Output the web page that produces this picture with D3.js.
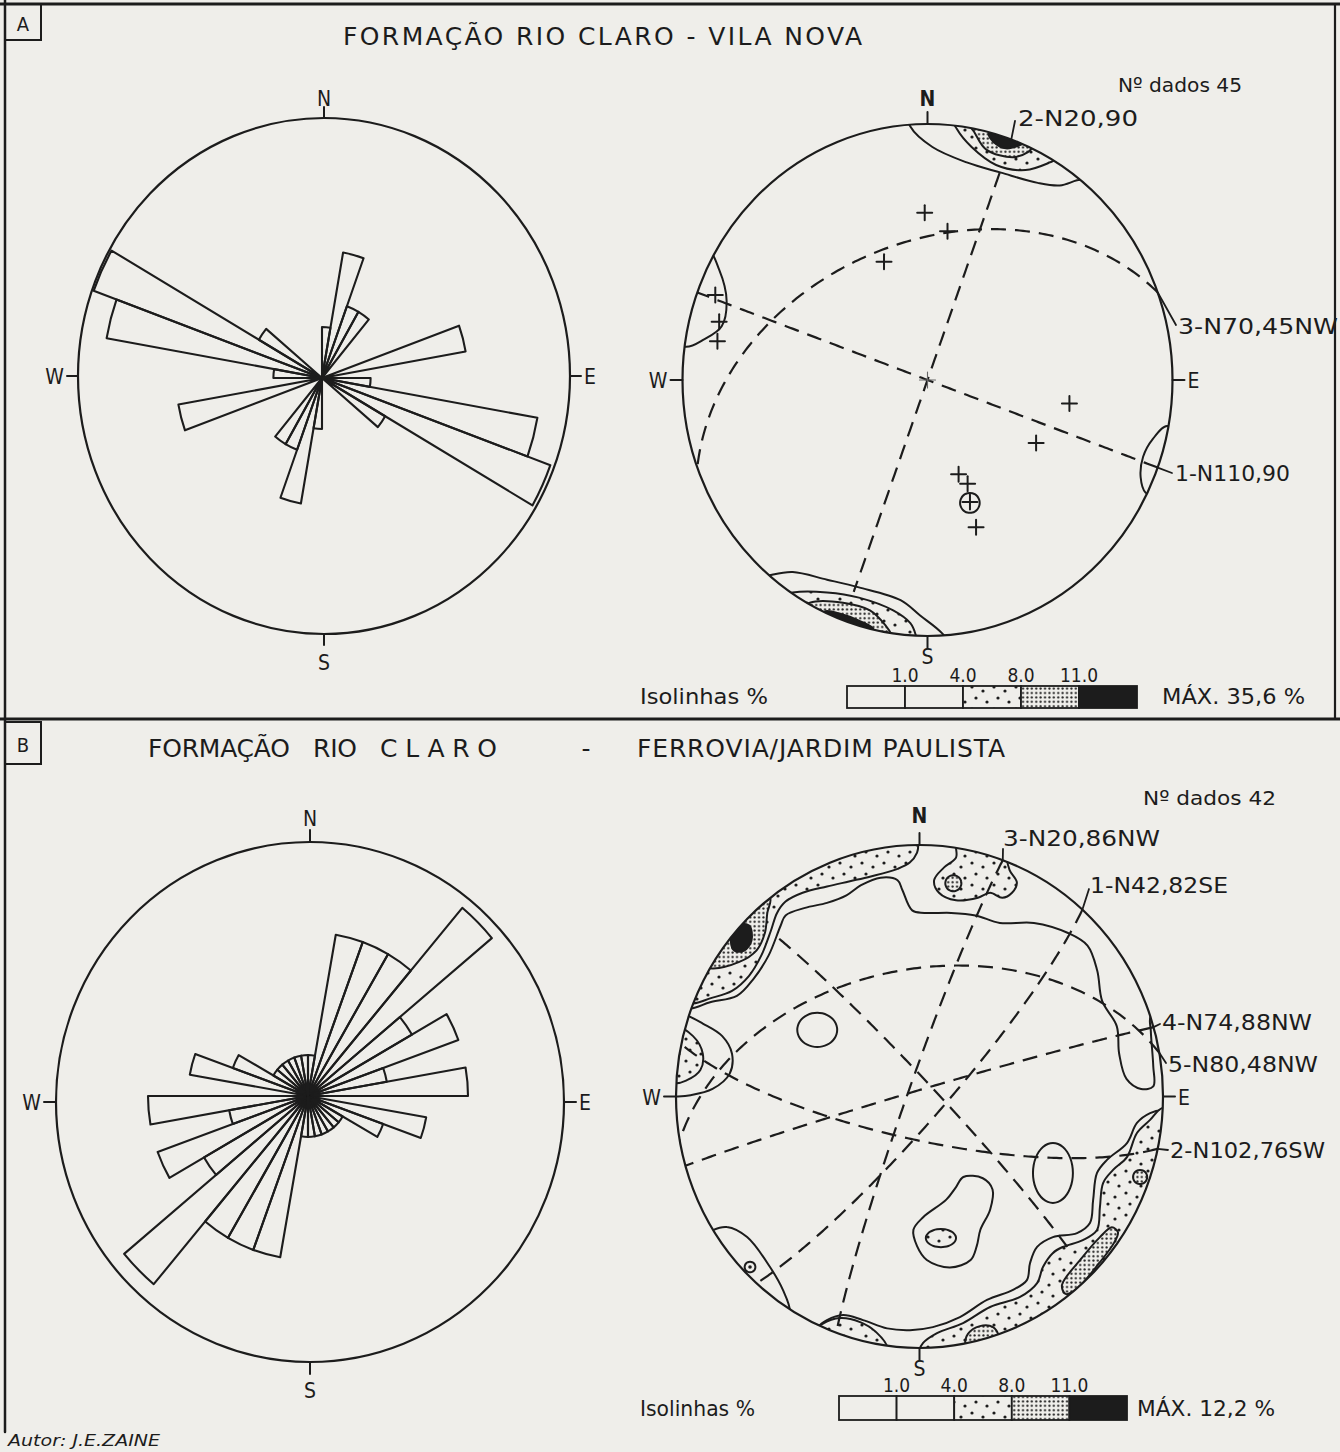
<!DOCTYPE html>
<html lang="pt">
<head>
<meta charset="utf-8">
<title>Formação Rio Claro – fraturas</title>
<script src="https://cdn.jsdelivr.net/npm/d3@7/dist/d3.min.js"></script>
<style>
  html, body { margin: 0; padding: 0; background: #efeeea; }
  svg { display: block; }
  text { font-family: "DejaVu Sans Condensed", "DejaVu Sans", sans-serif; fill: #1c1c1c; }
  text.title { font-family: "DejaVu Sans", sans-serif; }
</style>
</head>
<body>
<svg id="fig" width="1340" height="1452" viewBox="0 0 1340 1452"></svg>
<script>
// ------------------------------------------------------------------
// Data
// ------------------------------------------------------------------
// 10° strike classes from 0° to 180°; every class is plotted at its
// azimuth and at azimuth + 180°.
const strikeClasses = d3.range(0, 180, 10);

// number of fractures in each strike class
const roseCountsA = [2, 5, 3, 3, 0, 0, 0, 6, 0, 2, 9, 10, 3, 0, 0, 0, 0, 0];
const roseCountsB = [1, 4, 4, 4, 6, 3, 4, 2, 4, 0, 3, 2, 1, 1, 1, 1, 1, 1];

const dataCounts = [45, 42];          // Nº dados
const densityMax = [35.6, 12.2];      // MÁX. (%)
const isolineLevels = [1.0, 4.0, 8.0, 11.0];

// main fracture planes: strike, dip, dip direction (azimuths in degrees)
const planesA = [
  { name: "1-N110,90",  strike: 110, dip: 90, dipDir: 200 },
  { name: "2-N20,90",   strike: 20,  dip: 90, dipDir: 110, span: [15, 167] },
  { name: "3-N70,45NW", strike: 70,  dip: 45, dipDir: 340 }
];
const planesB = [
  { name: "1-N42,82SE",  strike: 42,  dip: 82, dipDir: 132 },
  { name: "2-N102,76SW", strike: 102, dip: 76, dipDir: 192 },
  { name: "3-N20,86NW",  strike: 20,  dip: 86, dipDir: 290 },
  { name: "4-N74,88NW",  strike: 74,  dip: 88, dipDir: 344 },
  { name: "5-N80,48NW",  strike: 80,  dip: 48, dipDir: 350 },
  { name: "",            strike: 316, dip: 85, dipDir: 46, span: [16, 164] }
];

// poles to fractures (trend, plunge) plotted individually in net A
const polesA = [
  [359, 35], [8, 41], [339, 49], [291, 8], [285, 13], [280, 14],
  [99, 41], [119, 48], [161, 58], [158, 54], [160, 48], [161, 39]
];

// density isolines (% per 1% area) in net coordinates (unit primitive,
// x east, y north); points beyond the primitive close the areas along it
const isolinesA = [
  { level: 1, pts: [[-0.07,0.99],[0.02,0.91],[0.16,0.85],[0.30,0.81],[0.45,0.77],[0.54,0.76],[0.61,0.78],[0.70,0.80],[0.40,1.05],[-0.08,1.04]] },
  { level: 1, pts: [[-0.63,-0.76],[-0.55,-0.75],[-0.41,-0.78],[-0.28,-0.81],[-0.11,-0.86],[-0.03,-0.92],[0.06,-0.99],[0.10,-1.05],[-0.30,-1.06],[-0.72,-0.79]] },
  { level: 1, pts: [[-0.90,0.51],[-0.85,0.43],[-0.82,0.31],[-0.84,0.21],[-0.91,0.16],[-0.99,0.13],[-1.08,0.20],[-1.05,0.45]] },
  { level: 1, pts: [[0.98,-0.18],[0.92,-0.23],[0.88,-0.30],[0.87,-0.38],[0.89,-0.44],[0.95,-0.46],[1.06,-0.32]] },
  { level: 4, pts: [[0.12,0.98],[0.18,0.91],[0.28,0.84],[0.40,0.82],[0.50,0.85],[0.52,0.86],[0.58,0.89],[0.30,1.02],[0.10,1.03]] },
  { level: 4, pts: [[-0.55,-0.83],[-0.41,-0.83],[-0.28,-0.85],[-0.14,-0.90],[-0.07,-0.95],[-0.05,-0.99],[-0.04,-1.05],[-0.40,-1.00],[-0.62,-0.85]] },
  { level: 8, pts: [[0.19,0.97],[0.24,0.90],[0.35,0.87],[0.41,0.89],[0.43,0.91],[0.46,0.95],[0.30,1.00],[0.17,1.00]] },
  { level: 8, pts: [[-0.48,-0.87],[-0.345,-0.87],[-0.235,-0.90],[-0.17,-0.96],[-0.15,-0.99],[-0.14,-1.05],[-0.35,-1.00],[-0.52,-0.90]] },
  { level: 11, pts: [[0.25,0.965],[0.27,0.93],[0.32,0.905],[0.37,0.915],[0.39,0.925],[0.37,0.96],[0.30,0.985]] },
  { level: 11, pts: [[-0.42,-0.905],[-0.35,-0.915],[-0.28,-0.94],[-0.22,-0.975],[-0.25,-1.03],[-0.40,-0.97]] }
];
// small closed isolines: centre and half-axes in net units
const loopsA = [
  { level: 1, u: 0.173, v: -0.48, ru: 0.04, rv: 0.039 }
];

const isolinesB = [
  { level: 1, pts: [[-0.94,0.35],[-0.86,0.375],[-0.75,0.40],[-0.68,0.47],[-0.62,0.56],[-0.57,0.68],[-0.55,0.72],[-0.47,0.75],[-0.38,0.77],[-0.30,0.80],[-0.24,0.84],[-0.16,0.87],[-0.09,0.86],[-0.07,0.82],[-0.03,0.74],[0.02,0.73],[0.13,0.73],[0.23,0.72],[0.33,0.69],[0.47,0.69],[0.61,0.65],[0.69,0.60],[0.73,0.50],[0.75,0.38],[0.81,0.28],[0.82,0.17],[0.85,0.07],[0.91,0.03],[0.96,0.04],[0.96,0.12],[0.95,0.26],[0.95,0.32],[1.02,0.36],[0.80,0.76],[0.30,1.02],[-0.30,1.02],[-0.80,0.70],[-1.02,0.36]] },
  { level: 1, pts: [[-0.975,0.33],[-0.89,0.29],[-0.81,0.24],[-0.77,0.17],[-0.78,0.09],[-0.85,0.03],[-0.94,0.005],[-1.0,0.0],[-1.08,0.0],[-1.06,0.34]] },
  { level: 1, pts: [[0.18,-0.32],[0.26,-0.325],[0.30,-0.37],[0.29,-0.45],[0.25,-0.53],[0.235,-0.595],[0.21,-0.65],[0.125,-0.68],[0.03,-0.65],[-0.01,-0.595],[-0.025,-0.53],[0.015,-0.48],[0.11,-0.41],[0.15,-0.36]] },
  { level: 1, pts: [[1.0,-0.054],[0.947,-0.066],[0.893,-0.105],[0.852,-0.185],[0.77,-0.252],[0.729,-0.304],[0.713,-0.412],[0.70,-0.503],[0.647,-0.543],[0.548,-0.559],[0.483,-0.598],[0.454,-0.662],[0.441,-0.73],[0.384,-0.769],[0.277,-0.809],[0.166,-0.877],[0.055,-0.917],[-0.039,-0.929],[-0.133,-0.922],[-0.232,-0.889],[-0.314,-0.869],[-0.38,-0.889],[-0.417,-0.917],[-0.45,-1.0],[0.30,-1.08],[0.88,-0.66],[1.07,-0.06]] },
  { level: 1, pts: [[-0.848,-0.531],[-0.791,-0.519],[-0.708,-0.559],[-0.614,-0.678],[-0.561,-0.769],[-0.532,-0.857],[-0.56,-0.92],[-0.92,-0.58]] },
  { level: 4, pts: [[-0.93,0.37],[-0.86,0.39],[-0.77,0.42],[-0.70,0.48],[-0.65,0.56],[-0.61,0.66],[-0.585,0.73],[-0.55,0.775],[-0.48,0.81],[-0.38,0.835],[-0.29,0.855],[-0.20,0.875],[-0.09,0.905],[-0.04,0.93],[-0.01,0.97],[-0.005,1.0],[-0.01,1.06],[-0.45,0.97],[-0.85,0.62],[-1.03,0.38]] },
  { level: 4, pts: [[0.15,0.99],[0.15,0.95],[0.10,0.91],[0.06,0.86],[0.08,0.81],[0.15,0.78],[0.24,0.79],[0.29,0.81],[0.34,0.79],[0.38,0.81],[0.40,0.85],[0.37,0.90],[0.36,0.95],[0.38,1.0],[0.15,1.05]] },
  { level: 4, pts: [[-1.01,0.28],[-0.93,0.24],[-0.89,0.17],[-0.90,0.105],[-0.955,0.065],[-1.01,0.055],[-1.1,0.17]] },
  { level: 4, pts: [[0.996,-0.046],[0.947,-0.093],[0.893,-0.145],[0.852,-0.241],[0.795,-0.292],[0.754,-0.344],[0.741,-0.439],[0.729,-0.531],[0.671,-0.571],[0.589,-0.598],[0.548,-0.622],[0.507,-0.678],[0.483,-0.742],[0.413,-0.797],[0.29,-0.837],[0.179,-0.901],[0.072,-0.941],[0.014,-0.981],[0.002,-1.008],[0.10,-1.06],[0.80,-0.70],[1.06,-0.05]] },
  { level: 4, pts: [[-0.40,-0.905],[-0.326,-0.881],[-0.244,-0.897],[-0.179,-0.936],[-0.133,-1.0],[-0.20,-1.06],[-0.45,-0.95]] },
  { level: 8, pts: [[-0.614,0.79],[-0.625,0.73],[-0.635,0.65],[-0.67,0.58],[-0.74,0.535],[-0.86,0.51],[-0.95,0.55],[-0.70,0.80]] },
  { level: 8, pts: [[0.79,-0.52],[0.815,-0.54],[0.80,-0.58],[0.74,-0.66],[0.64,-0.77],[0.60,-0.785],[0.585,-0.75],[0.66,-0.65],[0.74,-0.56]] },
  { level: 8, pts: [[0.187,-0.988],[0.199,-0.944],[0.248,-0.913],[0.302,-0.917],[0.326,-0.952],[0.33,-1.02],[0.20,-1.04]] },
  { level: 11, pts: [[-0.76,0.68],[-0.70,0.68],[-0.69,0.62],[-0.72,0.58],[-0.76,0.58],[-0.775,0.62]] }
];
const loopsB = [
  { level: 1, u: -0.42, v: 0.265, ru: 0.082, rv: 0.068 },
  { level: 1, u: 0.548, v: -0.304, ru: 0.082, rv: 0.119 },
  { level: 4, u: 0.088, v: -0.563, ru: 0.062, rv: 0.036 },
  { level: 4, u: -0.696, v: -0.678, ru: 0.022, rv: 0.021 },
  { level: 8, u: 0.139, v: 0.848, ru: 0.033, rv: 0.032 },
  { level: 8, u: 0.906, v: -0.32, ru: 0.029, rv: 0.028 }
];

// ------------------------------------------------------------------
// Drawing
// ------------------------------------------------------------------
const DEG = Math.PI / 180;
const INK = "#1c1c1c";
const PAPER = "#efeeea";
const svg = d3.select("#fig");
svg.append("rect").attr("width", 1340).attr("height", 1452).attr("fill", PAPER);

const defs = svg.append("defs");
const sparse = defs.append("pattern").attr("id", "dotsSparse")
  .attr("patternUnits", "userSpaceOnUse").attr("width", 22).attr("height", 22);
sparse.append("rect").attr("width", 22).attr("height", 22).attr("fill", PAPER);
[[4, 5], [15, 9], [8, 16], [19, 20]].forEach(([cx, cy]) =>
  sparse.append("circle").attr("cx", cx).attr("cy", cy).attr("r", 1.6).attr("fill", INK));
const dense = defs.append("pattern").attr("id", "dotsDense")
  .attr("patternUnits", "userSpaceOnUse").attr("width", 4.4).attr("height", 4.4);
dense.append("rect").attr("width", 4.4).attr("height", 4.4).attr("fill", PAPER);
dense.append("circle").attr("cx", 2.2).attr("cy", 2.2).attr("r", 1.1).attr("fill", INK);

const levelFill = lv => lv >= 11 ? INK : lv >= 8 ? "url(#dotsDense)" : lv >= 4 ? "url(#dotsSparse)" : PAPER;

// Lambert equal-area (Schmidt) projection, lower hemisphere, unit primitive
function project(trend, plunge) {
  const r = Math.SQRT2 * Math.sin((90 - plunge) * DEG / 2);
  return [r * Math.sin(trend * DEG), r * Math.cos(trend * DEG)];
}
function greatCircle(p) {
  const s = [Math.cos(p.strike * DEG), Math.sin(p.strike * DEG), 0];
  const d = [Math.cos(p.dip * DEG) * Math.cos(p.dipDir * DEG),
             Math.cos(p.dip * DEG) * Math.sin(p.dipDir * DEG),
             Math.sin(p.dip * DEG)];
  const [t0, t1] = p.span || [0, 180];
  return d3.range(t0, t1 + 0.001, 1).map(t => {
    const c = Math.cos(t * DEG), sn = Math.sin(t * DEG);
    const v = [c * s[0] + sn * d[0], c * s[1] + sn * d[1], c * s[2] + sn * d[2]];
    const plunge = Math.asin(Math.max(-1, Math.min(1, v[2]))) / DEG;
    const trend = Math.atan2(v[1], v[0]) / DEG;
    return project(trend, plunge);
  });
}

function text(g, str, x, y, o = {}) {
  const t = g.append("text").attr("x", x).attr("y", y).text(str)
    .attr("font-size", o.size || 21)
    .attr("text-anchor", o.anchor || "start");
  if (o.cls) t.attr("class", o.cls);
  if (o.weight) t.attr("font-weight", o.weight);
  if (o.style) t.attr("font-style", o.style);
  if (o.len) t.attr("textLength", o.len).attr("lengthAdjust", o.adjust || "spacingAndGlyphs");
  return t;
}
function line(g, x1, y1, x2, y2, w = 2) {
  return g.append("line").attr("x1", x1).attr("y1", y1).attr("x2", x2).attr("y2", y2)
    .attr("stroke", INK).attr("stroke-width", w).attr("stroke-linecap", "round");
}

// compass ticks and letters around a primitive
function compass(g, c, o) {
  line(g, c.cx, c.cy - c.ry - o.tick, c.cx, c.cy - c.ry);
  line(g, c.cx, c.cy + c.ry, c.cx, c.cy + c.ry + o.tick);
  line(g, c.cx - c.rx - o.tick, c.cy, c.cx - c.rx, c.cy);
  line(g, c.cx + c.rx, c.cy, c.cx + c.rx + o.tick, c.cy);
  text(g, "N", c.cx, c.cy - c.ry - o.nGap, { anchor: "middle", size: 21, weight: o.bold ? "bold" : null });
  text(g, "S", c.cx, c.cy + c.ry + o.sGap, { anchor: "middle", size: 21 });
  text(g, "W", c.cx - c.rx - o.tick - 3, c.cy + 8, { anchor: "end", size: 21 });
  text(g, "E", c.cx + c.rx + o.tick + 3, c.cy + 8, { anchor: "start", size: 21 });
}

// ---------------- rose diagrams ----------------
function drawRose(counts, c, o) {
  const g = svg.append("g");
  const r = d3.scaleLinear().domain([0, o.unitCount]).range([0, o.unitRadius]);
  const petals = [];
  strikeClasses.forEach((a, i) => {
    if (counts[i] > 0) {
      petals.push({ a0: a, n: counts[i] });
      petals.push({ a0: a + 180, n: counts[i] });
    }
  });
  const arc = d3.arc().innerRadius(0);
  g.append("g")
    .attr("transform", `translate(${o.ox},${o.oy}) scale(1,${c.ry / c.rx})`)
    .selectAll("path").data(petals).join("path")
    .attr("d", d => arc({ outerRadius: r(d.n), startAngle: d.a0 * DEG, endAngle: (d.a0 + 10) * DEG }))
    .attr("fill", "none").attr("stroke", INK).attr("stroke-width", 2.1)
    .attr("stroke-linejoin", "round").attr("vector-effect", "non-scaling-stroke");
  g.append("ellipse").attr("cx", c.cx).attr("cy", c.cy).attr("rx", c.rx).attr("ry", c.ry)
    .attr("fill", "none").attr("stroke", INK).attr("stroke-width", 2.2);
  compass(g, c, o.compass);
}

// ---------------- stereonets ----------------
let clipId = 0;
function drawNet(c, isolines, loops, planes, poles, labels, o) {
  const g = svg.append("g");
  const x = d3.scaleLinear().domain([-1, 1]).range([c.cx - c.rx, c.cx + c.rx]);
  const y = d3.scaleLinear().domain([-1, 1]).range([c.cy + c.ry, c.cy - c.ry]);
  const id = "net" + (clipId++);
  defs.append("clipPath").attr("id", id).append("ellipse")
    .attr("cx", c.cx).attr("cy", c.cy).attr("rx", c.rx).attr("ry", c.ry);
  const inner = g.append("g").attr("clip-path", `url(#${id})`);

  const closed = d3.line().x(p => x(p[0])).y(p => y(p[1])).curve(d3.curveCatmullRomClosed.alpha(0.5));
  const shapes = isolines.map(s => ({ level: s.level, pts: s.pts, loop: null }))
    .concat(loops.map(l => ({
      level: l.level, loop: l,
      pts: d3.range(0, 360, 15).map(a => [l.u + l.ru * Math.cos(a * DEG), l.v + l.rv * Math.sin(a * DEG)])
    })));
  shapes.sort((a, b) => a.level - b.level);
  inner.selectAll("path.iso").data(shapes).join("path").attr("class", "iso")
    .attr("d", s => closed(s.pts))
    .attr("fill", s => levelFill(s.level))
    .attr("stroke", INK).attr("stroke-width", 2).attr("stroke-linejoin", "round");
  // a small 4 % loop carries its dot at the centre
  shapes.filter(s => s.loop && s.level === 4 && s.loop.ru < 0.05).forEach(s =>
    inner.append("circle").attr("cx", x(s.loop.u)).attr("cy", y(s.loop.v)).attr("r", 1.8).attr("fill", INK));

  // great circles
  const open = d3.line().x(p => x(p[0])).y(p => y(p[1]));
  inner.selectAll("path.gc").data(planes).join("path").attr("class", "gc")
    .attr("d", p => open(greatCircle(p)))
    .attr("fill", "none").attr("stroke", INK).attr("stroke-width", 2.2)
    .attr("stroke-dasharray", "15,9");

  // poles
  const arm = 7.5;
  poles.forEach(([tr, pl]) => {
    const [u, v] = project(tr, pl);
    line(g, x(u) - arm, y(v), x(u) + arm, y(v), 2);
    line(g, x(u), y(v) - arm, x(u), y(v) + arm, 2);
  });

  if (o.centreCross) {
    line(g, c.cx - 8, c.cy, c.cx + 8, c.cy, 1.1).attr("stroke", "#666");
    line(g, c.cx, c.cy - 8, c.cx, c.cy + 8, 1.1).attr("stroke", "#666");
  }

  g.append("ellipse").attr("cx", c.cx).attr("cy", c.cy).attr("rx", c.rx).attr("ry", c.ry)
    .attr("fill", "none").attr("stroke", INK).attr("stroke-width", 2.2);
  compass(g, c, o.compass);

  // plane labels with leaders from the strike end of each great circle
  planes.forEach((p, i) => {
    const lab = labels[i];
    if (!lab || !p.name) return;
    const [u, v] = project(p.strike, 0);
    line(g, x(u), y(v), lab.to[0], lab.to[1], 1.8);
    text(g, p.name, lab.x, lab.y, { size: 21, len: lab.w });
  });
  return g;
}

function drawLegend(x0, y0, cellW, h, maxVal, lab) {
  const g = svg.append("g");
  const fills = [PAPER, PAPER, "url(#dotsSparse)", "url(#dotsDense)", INK];
  g.selectAll("rect").data(fills).join("rect")
    .attr("x", (d, i) => x0 + i * cellW).attr("y", y0)
    .attr("width", cellW).attr("height", h)
    .attr("fill", d => d).attr("stroke", INK).attr("stroke-width", 1.8);
  isolineLevels.forEach((lv, i) =>
    text(g, d3.format(".1f")(lv), x0 + (i + 1) * cellW, y0 - 4, { anchor: "middle", size: 19 }));
  text(g, "Isolinhas %", lab.isoX, y0 + h - 4, { size: 22, len: lab.isoW });
  text(g, `MÁX. ${d3.format(".1f")(maxVal).replace(".", ",")} %`, lab.maxX, y0 + h - 4, { size: 22, len: lab.maxW });
}

// ---------------- frame and titles ----------------
const frame = svg.append("g");
line(frame, 0, 4, 1340, 4, 3);
line(frame, 5, 0, 5, 1432, 2.5);
line(frame, 0, 719, 1340, 719, 3);
line(frame, 1335, 4, 1335, 719, 2.2);
frame.append("rect").attr("x", 5).attr("y", 4).attr("width", 36).attr("height", 36)
  .attr("fill", "none").attr("stroke", INK).attr("stroke-width", 2);
text(frame, "A", 23, 31, { anchor: "middle", size: 20 });
frame.append("rect").attr("x", 5).attr("y", 722).attr("width", 36).attr("height", 42)
  .attr("fill", "none").attr("stroke", INK).attr("stroke-width", 2);
text(frame, "B", 23, 752, { anchor: "middle", size: 20 });

const T = { size: 25, cls: "title", adjust: "spacing" };
text(frame, "FORMAÇÃO RIO CLARO - VILA NOVA", 343, 45, { ...T, len: 519 });
text(frame, "FORMAÇÃO", 148, 757, { ...T, len: 142 });
text(frame, "RIO", 313, 757, { ...T, len: 44 });
text(frame, "CLARO", 380, 757, { ...T, len: 117 });
text(frame, "-", 586, 757, { size: 25, cls: "title", anchor: "middle" });
text(frame, "FERROVIA/JARDIM PAULISTA", 637, 757, { ...T, len: 368 });
text(frame, "Autor: J.E.ZAINE", 8, 1446, { size: 15, style: "italic", len: 152 });

// ---------------- panel A ----------------
drawRose(roseCountsA, { cx: 324, cy: 376, rx: 246, ry: 258 },
  { ox: 322, oy: 378, unitCount: 10, unitRadius: 243, compass: { tick: 11, nGap: 12, sGap: 36 } });

drawNet({ cx: 927.5, cy: 380, rx: 245, ry: 256 }, isolinesA, loopsA, planesA, polesA,
  [
    { x: 1175, y: 481, w: 115, to: [1172, 473] },
    { x: 1018, y: 126, w: 120, to: [1015, 121] },
    { x: 1178, y: 334, w: 160, to: [1176, 325] }
  ],
  { centreCross: true, compass: { tick: 12, nGap: 18, sGap: 28, bold: true } });
text(svg, `Nº dados ${dataCounts[0]}`, 1118, 92, { size: 20, len: 124 });
drawLegend(847, 686, 58, 22, densityMax[0], { isoX: 640, isoW: 128, maxX: 1162, maxW: 143 });

// ---------------- panel B ----------------
drawRose(roseCountsB, { cx: 310, cy: 1102, rx: 254, ry: 260 },
  { ox: 308, oy: 1096, unitCount: 6, unitRadius: 240, compass: { tick: 12, nGap: 16, sGap: 36 } });

drawNet({ cx: 919.5, cy: 1096.5, rx: 243.5, ry: 251.5 }, isolinesB, loopsB, planesB, [],
  [
    { x: 1090, y: 893, w: 138, to: [1089, 889] },
    { x: 1170, y: 1158, w: 155, to: [1168, 1150] },
    { x: 1003, y: 846, w: 157, to: [1003, 849] },
    { x: 1162, y: 1030, w: 150, to: [1160, 1024] },
    { x: 1168, y: 1072, w: 150, to: [1166, 1063] },
    null
  ],
  { centreCross: false, compass: { tick: 12, nGap: 22, sGap: 28, bold: true } });
text(svg, `Nº dados ${dataCounts[1]}`, 1143, 805, { size: 20, len: 133 });
drawLegend(839, 1396, 57.6, 24, densityMax[1], { isoX: 640, isoW: 115, maxX: 1137, maxW: 138 });
</script>
</body>
</html>
